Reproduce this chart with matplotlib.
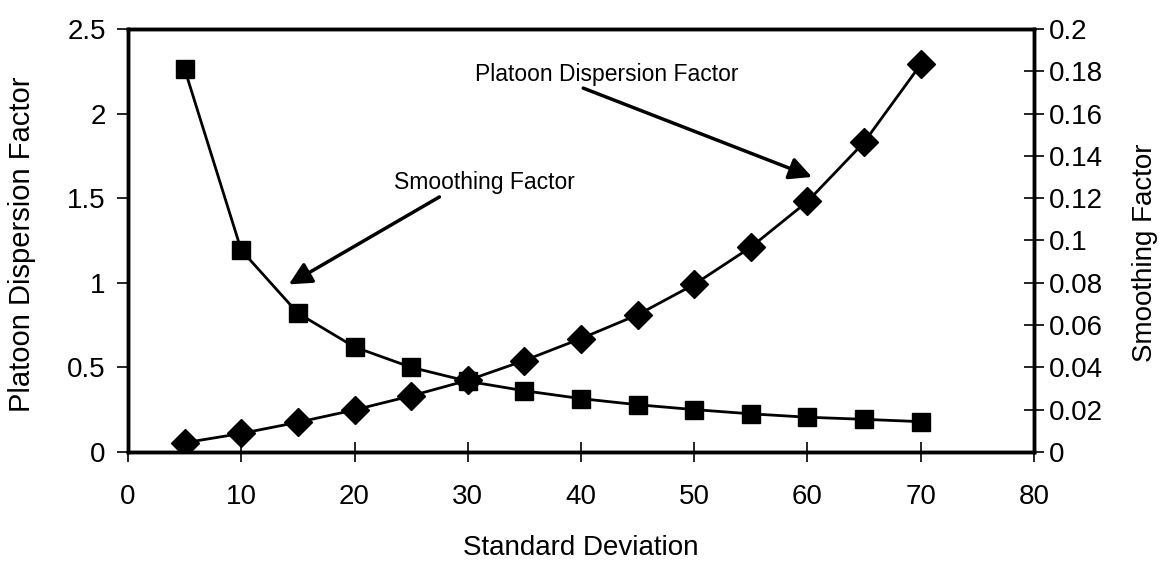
import matplotlib.pyplot as plt
from matplotlib.ticker import FormatStrFormatter

plt.rcParams['font.family'] = ['Liberation Sans', 'DejaVu Sans']

# data
std_dev = [5, 10, 15, 20, 25, 30, 35, 40, 45, 50, 55, 60, 65, 70]
dispersion = [0.054, 0.109, 0.175, 0.248, 0.331, 0.423, 0.54, 0.67,
              0.81, 0.99, 1.21, 1.48, 1.83, 2.29]
smoothing = [0.181, 0.0954, 0.0656, 0.0496, 0.040, 0.0334, 0.0289, 0.0252,
             0.0223, 0.020, 0.018, 0.0164, 0.0154, 0.0143]

left_ticks = [0, 0.5, 1, 1.5, 2, 2.5]
right_ticks = [0, 0.02, 0.04, 0.06, 0.08, 0.1, 0.12, 0.14, 0.16, 0.18, 0.2]
x_ticks = [0, 10, 20, 30, 40, 50, 60, 70, 80]

fig = plt.figure(figsize=(11.67, 5.67), dpi=100)
ax = fig.add_axes([0.1097, 0.203, 0.7763, 0.746])
ax2 = ax.twinx()

ax.plot(std_dev, dispersion, color='black', lw=2, marker='D',
        markersize=14, zorder=3)
ax2.plot(std_dev, smoothing, color='black', lw=2, marker='s',
         markersize=12.5, zorder=3)

ax.set_xlim(0, 80)
ax.set_ylim(0, 2.5)
ax2.set_ylim(0, 0.2)
ax.set_xticks(x_ticks)
ax.set_yticks(left_ticks)
ax2.set_yticks(right_ticks)
ax.yaxis.set_major_formatter(FormatStrFormatter('%g'))
ax2.yaxis.set_major_formatter(FormatStrFormatter('%g'))

for a in (ax, ax2):
    for sp in a.spines.values():
        sp.set_linewidth(2.5)
ax.tick_params(axis='x', direction='inout', length=14, width=1.2,
               labelsize=20, pad=16)
ax.tick_params(axis='y', direction='out', length=8, width=1.2,
               labelsize=20, pad=8)
ax2.tick_params(axis='y', direction='inout', length=14, width=1.2,
                labelsize=20, pad=4)

ax.set_xlabel('Standard Deviation', fontsize=20)
ax.set_ylabel('Platoon Dispersion Factor', fontsize=21)
ax2.set_ylabel('Smoothing Factor', fontsize=20)
ax.xaxis.set_label_coords(0.5, -0.197)
ax.yaxis.set_label_coords(-0.1015, 0.49)
ax2.yaxis.set_label_coords(1.108, 0.47)

# 注释文字和箭头
ax.text(42.3, 2.23, 'Platoon Dispersion Factor', fontsize=16.5,
        ha='center', va='center')
ax.annotate('', xy=(60.4, 1.625), xytext=(40.2, 2.15),
            arrowprops=dict(arrowstyle='-|>', color='black', lw=2.5,
                            mutation_scale=34, shrinkA=0, shrinkB=0))
ax.text(31.5, 1.59, 'Smoothing Factor', fontsize=16.5,
        ha='center', va='center')
ax.annotate('', xy=(14.2, 0.99), xytext=(27.5, 1.507),
            arrowprops=dict(arrowstyle='-|>', color='black', lw=2.5,
                            mutation_scale=34, shrinkA=0, shrinkB=0))

fig.savefig('out.png', dpi=100)
